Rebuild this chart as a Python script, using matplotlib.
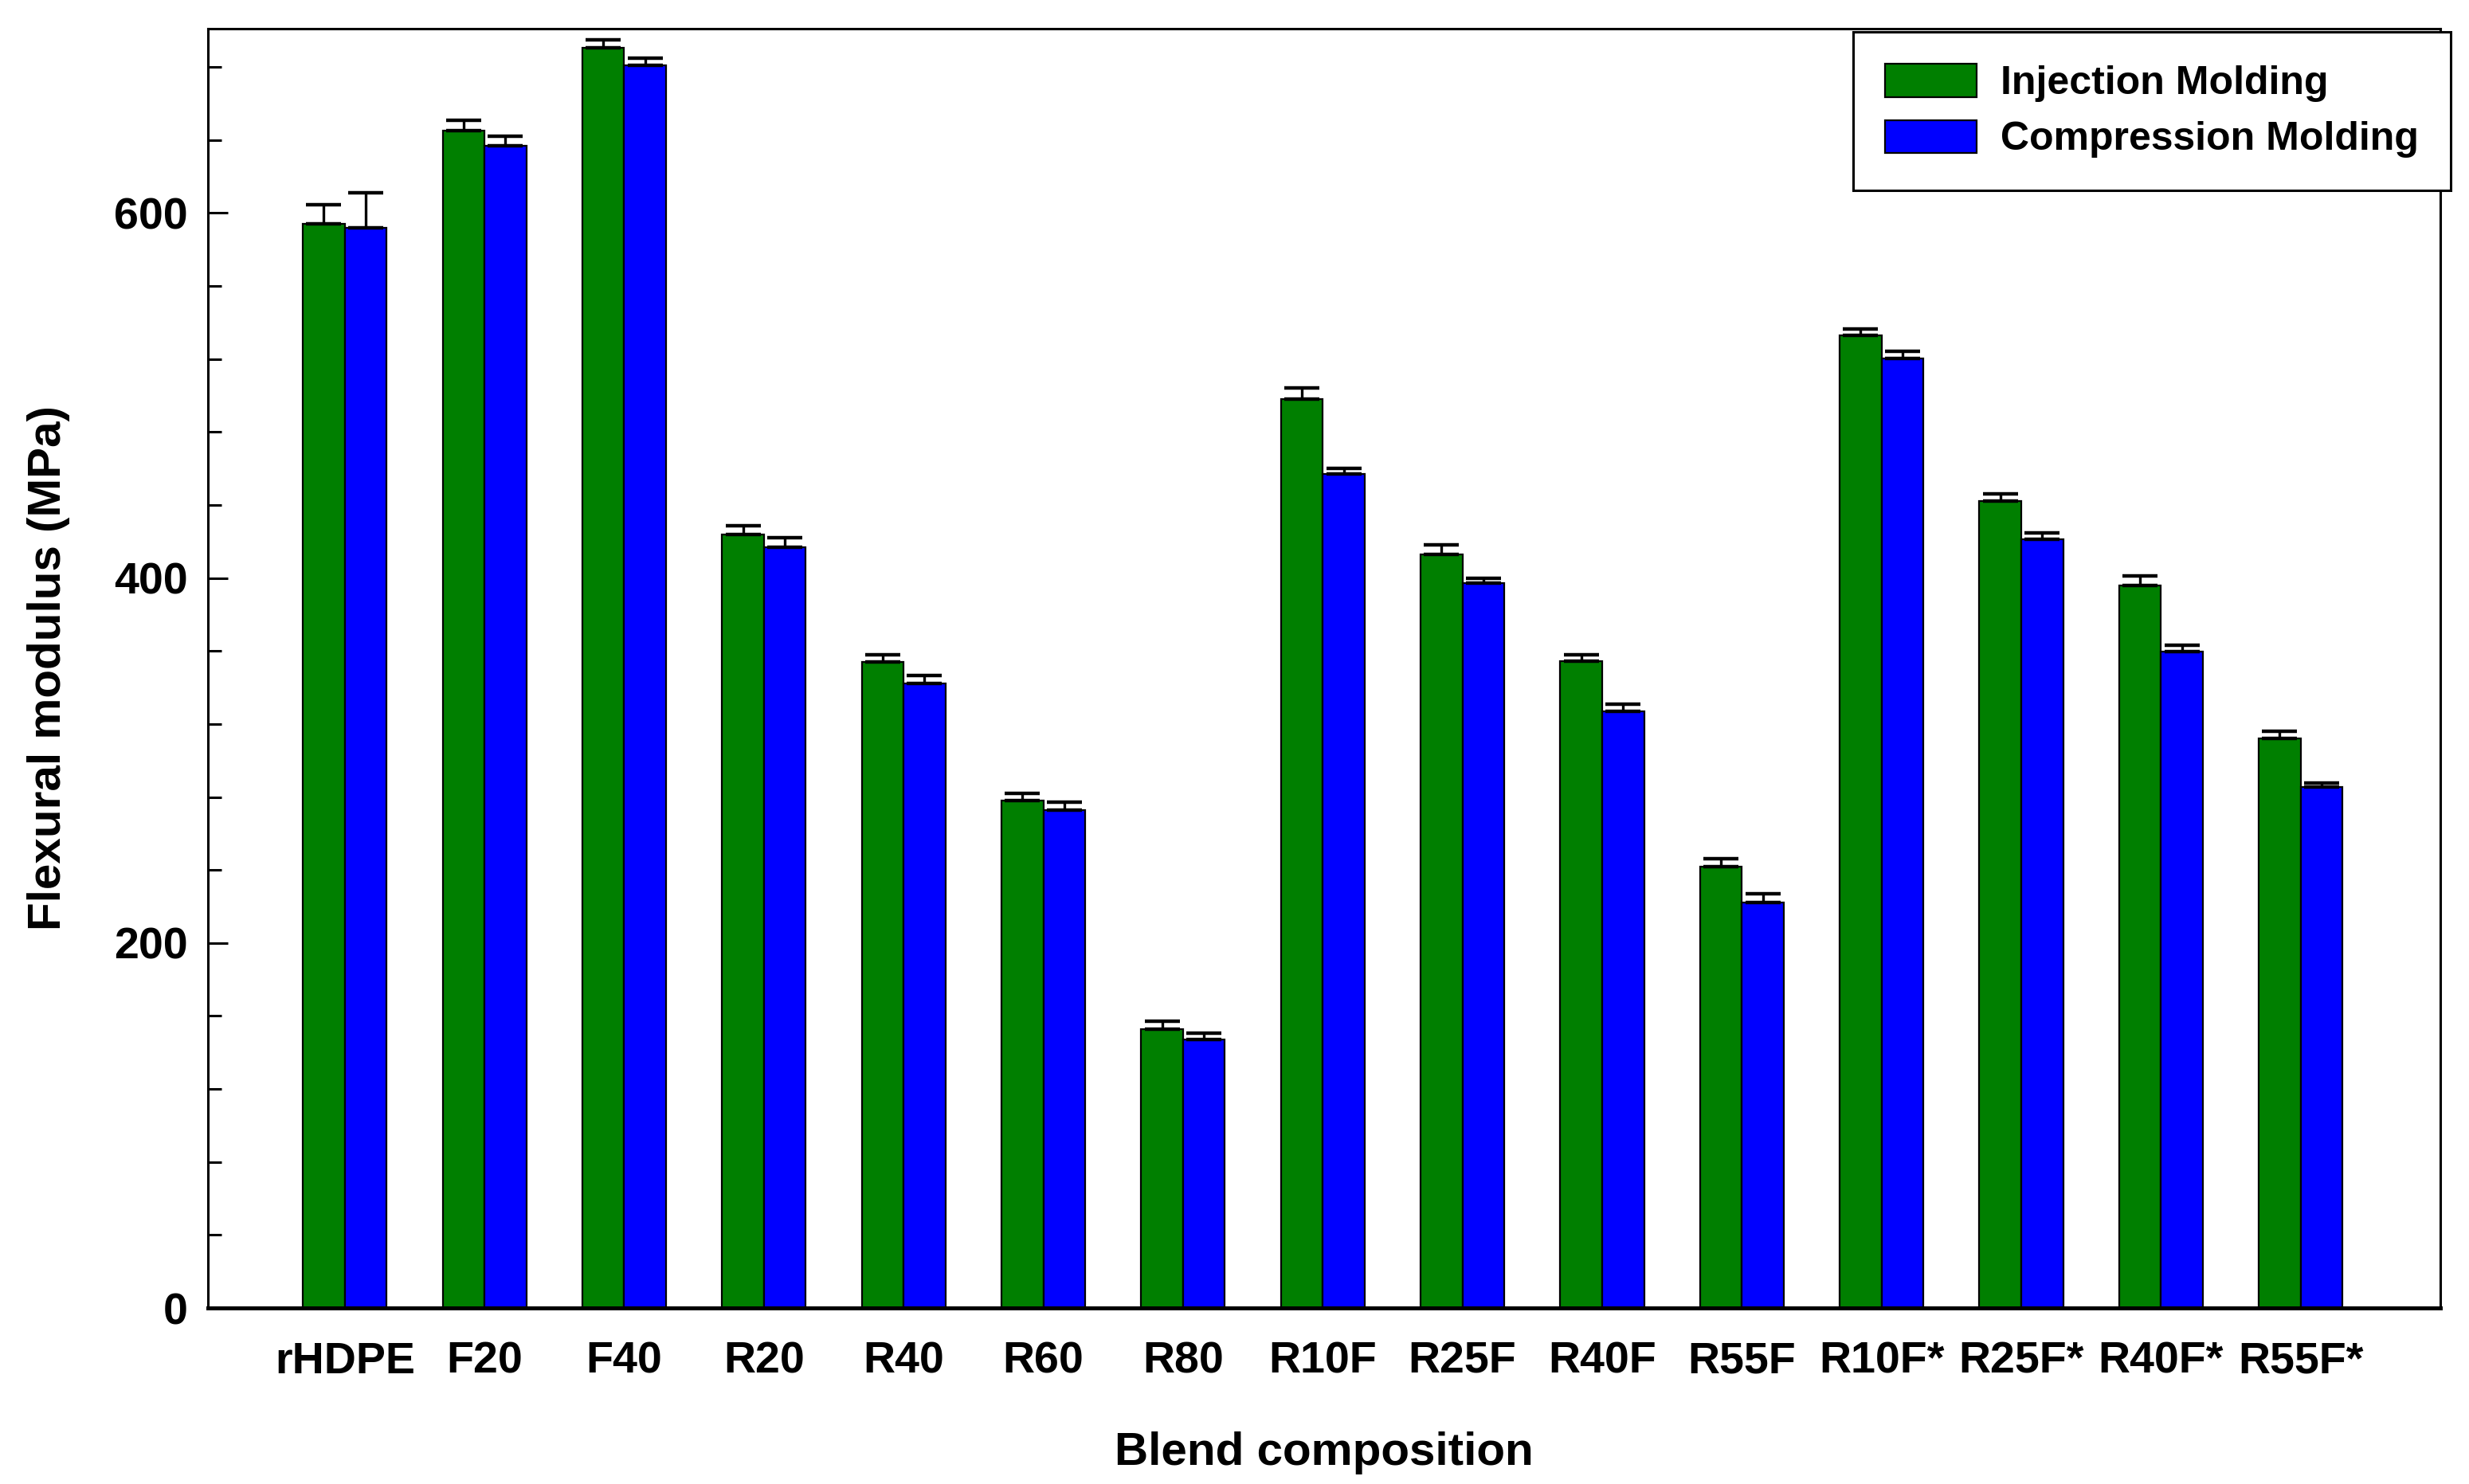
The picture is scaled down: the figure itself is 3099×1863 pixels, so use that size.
import numpy as np
import matplotlib
matplotlib.use('Agg')
import matplotlib.pyplot as plt
from matplotlib.ticker import MultipleLocator

# Blend names and flexural modulus values (MPa)
blends = ['rHDPE', 'F20', 'F40', 'R20', 'R40', 'R60', 'R80', 'R10F', 'R25F',
          'R40F', 'R55F', 'R10F*', 'R25F*', 'R40F*', 'R55F*']
injection = [594, 645, 690.5, 424, 354, 278, 153, 498, 413, 354.5, 242, 533, 442, 396, 312]
injection_err = [10.5, 6, 4.5, 4.5, 4, 4, 4, 6, 5, 3.5, 4, 3.5, 4, 5, 4]
compression = [592, 637, 681, 417, 342, 273, 147, 457, 397, 327, 222, 520.5, 421, 359.5, 285.5]
compression_err = [19, 5, 4, 5, 4.5, 4, 3.7, 3, 3, 4, 5, 3.5, 3.5, 3.5, 2]

plt.rcParams['font.family'] = ['Liberation Sans', 'DejaVu Sans']
plt.rcParams['font.weight'] = 'bold'

fig = plt.figure(figsize=(15.495, 9.315), dpi=200)
ax = fig.add_axes([0.0842, 0.1186, 0.9042, 0.8621])

x = np.arange(len(blends))
width = 0.3

# only the upper half of each error bar is drawn
err_kw = dict(ecolor='black', elinewidth=1.2, capsize=8, capthick=1.6)
ax.bar(x - width / 2, injection, width, color='#007F00', edgecolor='black', linewidth=0.8,
       yerr=[np.zeros(len(blends)), injection_err], error_kw=err_kw, label='Injection Molding')
ax.bar(x + width / 2, compression, width, color='#0000FF', edgecolor='black', linewidth=0.8,
       yerr=[np.zeros(len(blends)), compression_err], error_kw=err_kw, label='Compression Molding')

ax.set_xlim(-0.98, 15.0)
ax.set_ylim(0, 701)
ax.set_xticks(x)
ax.set_xticklabels(blends, fontsize=20, fontweight='bold')
ax.yaxis.set_major_locator(MultipleLocator(200))
ax.yaxis.set_minor_locator(MultipleLocator(40))
ax.tick_params(axis='y', which='major', direction='in', length=9, width=1.1, labelsize=20, pad=9)
ax.tick_params(axis='y', which='minor', direction='in', length=6, width=1.1)
ax.tick_params(axis='x', which='both', length=0, pad=15)

for spine in ax.spines.values():
    spine.set_linewidth(1.1)
ax.spines['bottom'].set_linewidth(1.8)

ax.set_xlabel('Blend composition', fontsize=21, fontweight='bold', labelpad=22)
ax.set_ylabel('Flexural modulus (MPa)', fontsize=21, fontweight='bold', labelpad=20)

leg = ax.legend(loc='upper right', bbox_to_anchor=(3076 / 3099, 1 - 40 / 1863),
                bbox_transform=fig.transFigure, borderaxespad=0, fontsize=18,
                fancybox=False, framealpha=1, edgecolor='black',
                handlelength=2.3, handleheight=0.9, handletextpad=0.6,
                borderpad=0.8, labelspacing=0.45)
leg.get_frame().set_linewidth(1.1)

fig.savefig('out.png', dpi=200)
